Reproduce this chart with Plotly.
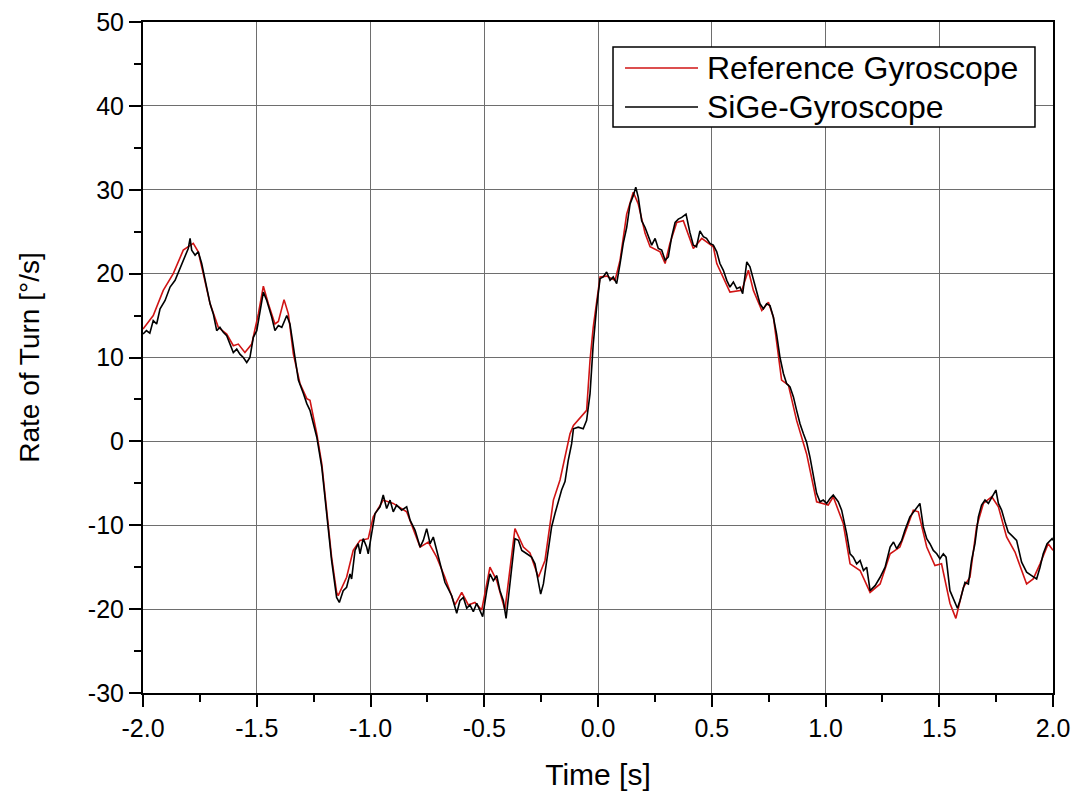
import plotly.graph_objects as go

# ---- data ----
ref_t = [-2.000, -1.955, -1.911, -1.867, -1.823, -1.779, -1.757, -1.735, -1.705, -1.669,
         -1.632, -1.603, -1.581, -1.552, -1.522, -1.493, -1.471, -1.449, -1.420, -1.405,
         -1.380, -1.361, -1.339, -1.310, -1.280, -1.266, -1.236, -1.214, -1.192, -1.171,
         -1.149, -1.142, -1.105, -1.076, -1.046, -1.010, -0.988, -0.944, -0.900, -0.841,
         -0.782, -0.746, -0.709, -0.673, -0.629, -0.599, -0.570, -0.541, -0.511, -0.475,
         -0.445, -0.409, -0.365, -0.328, -0.299, -0.262, -0.233, -0.196, -0.167, -0.123,
         -0.108, -0.050, -0.035, -0.021, 0.009, 0.038, 0.075, 0.097, 0.126, 0.155,
         0.177, 0.207, 0.229, 0.273, 0.295, 0.316, 0.346, 0.375, 0.419, 0.456,
         0.507, 0.522, 0.580, 0.632, 0.661, 0.683, 0.720, 0.749, 0.771, 0.807,
         0.837, 0.873, 0.917, 0.961, 1.012, 1.034, 1.078, 1.108, 1.152, 1.196,
         1.240, 1.284, 1.327, 1.386, 1.408, 1.445, 1.481, 1.510, 1.547, 1.573,
         1.606, 1.635, 1.664, 1.694, 1.731, 1.760, 1.796, 1.833, 1.884, 1.913,
         1.943, 1.979, 2.000]
ref_v = [13.4, 15.0, 18.0, 20.0, 22.8, 23.6, 22.6, 20.0, 16.4, 13.6,
         12.8, 11.4, 11.6, 10.6, 11.6, 15.2, 18.5, 16.4, 14.0, 14.3,
         16.9, 15.2, 10.4, 6.9, 5.1, 4.9, 0.9, -2.7, -8.6, -13.8,
         -18.0, -18.4, -16.2, -13.0, -11.8, -11.6, -9.0, -7.0, -7.4, -8.4,
         -12.6, -12.0, -13.8, -16.2, -19.5, -18.0, -19.5, -19.2, -20.1, -15.0,
         -16.6, -20.1, -10.4, -12.6, -13.3, -16.2, -14.2, -7.0, -4.6, 0.9,
         1.9, 3.7, 9.7, 13.6, 19.6, 19.7, 19.2, 21.6, 27.1, 29.7,
         28.3, 24.8, 23.2, 22.6, 21.2, 23.6, 26.1, 26.3, 23.0, 24.2,
         23.2, 21.2, 17.8, 18.0, 20.4, 18.0, 15.6, 16.6, 14.8, 7.3,
         6.7, 2.5, -1.5, -7.2, -7.6, -6.6, -9.8, -14.6, -15.4, -18.0,
         -17.0, -13.4, -12.6, -8.2, -8.4, -12.6, -14.8, -14.6, -19.3, -21.1,
         -17.4, -16.2, -10.2, -7.4, -6.6, -7.8, -11.4, -13.2, -17.0, -16.4,
         -14.6, -12.2, -13.0]

sige_t = [-2.000, -1.985, -1.970, -1.955, -1.940, -1.925, -1.903, -1.881, -1.859, -1.837,
          -1.815, -1.801, -1.793, -1.786, -1.771, -1.757, -1.742, -1.727, -1.705, -1.691,
          -1.676, -1.662, -1.647, -1.632, -1.618, -1.603, -1.588, -1.574, -1.559, -1.544,
          -1.530, -1.515, -1.500, -1.486, -1.471, -1.456, -1.434, -1.420, -1.405, -1.390,
          -1.368, -1.354, -1.339, -1.317, -1.295, -1.280, -1.266, -1.251, -1.236, -1.214,
          -1.192, -1.171, -1.149, -1.137, -1.120, -1.105, -1.090, -1.083, -1.068, -1.054,
          -1.046, -1.032, -1.017, -1.010, -0.995, -0.980, -0.958, -0.944, -0.929, -0.914,
          -0.900, -0.885, -0.863, -0.841, -0.826, -0.804, -0.782, -0.768, -0.753, -0.738,
          -0.724, -0.702, -0.687, -0.673, -0.658, -0.643, -0.621, -0.607, -0.592, -0.577,
          -0.563, -0.548, -0.533, -0.519, -0.507, -0.489, -0.475, -0.460, -0.445, -0.431,
          -0.416, -0.404, -0.387, -0.365, -0.350, -0.335, -0.313, -0.292, -0.277, -0.262,
          -0.252, -0.240, -0.225, -0.204, -0.189, -0.174, -0.160, -0.145, -0.131, -0.116,
          -0.108, -0.087, -0.065, -0.050, -0.035, -0.021, -0.006, 0.009, 0.023, 0.038,
          0.053, 0.067, 0.082, 0.097, 0.111, 0.126, 0.141, 0.155, 0.166, 0.177,
          0.192, 0.207, 0.221, 0.236, 0.251, 0.265, 0.280, 0.295, 0.309, 0.324,
          0.339, 0.353, 0.368, 0.387, 0.404, 0.419, 0.433, 0.448, 0.463, 0.477,
          0.492, 0.507, 0.522, 0.536, 0.551, 0.566, 0.580, 0.595, 0.610, 0.624,
          0.636, 0.654, 0.668, 0.683, 0.698, 0.712, 0.727, 0.741, 0.756, 0.771,
          0.785, 0.800, 0.815, 0.829, 0.844, 0.859, 0.873, 0.888, 0.903, 0.917,
          0.932, 0.946, 0.961, 0.976, 0.990, 1.005, 1.020, 1.034, 1.056, 1.071,
          1.093, 1.108, 1.122, 1.137, 1.152, 1.167, 1.181, 1.196, 1.218, 1.240,
          1.262, 1.284, 1.299, 1.313, 1.335, 1.349, 1.371, 1.393, 1.415, 1.430,
          1.445, 1.459, 1.474, 1.489, 1.503, 1.518, 1.530, 1.547, 1.562, 1.580,
          1.591, 1.613, 1.628, 1.642, 1.657, 1.672, 1.686, 1.701, 1.716, 1.731,
          1.749, 1.760, 1.774, 1.789, 1.803, 1.818, 1.840, 1.862, 1.884, 1.906,
          1.928, 1.943, 1.957, 1.974, 1.996, 2.000]
sige_v = [12.8, 13.2, 12.9, 14.4, 14.0, 15.8, 16.8, 18.4, 19.2, 20.6,
          22.2, 23.0, 24.2, 22.8, 22.2, 22.6, 21.2, 19.2, 16.4, 15.2,
          13.2, 13.6, 13.0, 12.6, 11.6, 10.6, 11.0, 10.4, 10.0, 9.4,
          10.0, 12.4, 13.2, 15.2, 17.8, 16.8, 14.8, 13.2, 13.8, 13.6,
          15.0, 14.0, 11.2, 7.3, 5.7, 4.5, 3.7, 2.1, 0.5, -3.1,
          -8.6, -14.2, -18.6, -19.2, -17.8, -17.4, -15.8, -16.4, -13.0, -12.2,
          -13.4, -11.6, -12.6, -13.4, -11.0, -8.6, -7.8, -6.4, -8.0, -7.0,
          -8.4, -7.6, -8.2, -7.8, -9.4, -10.6, -12.6, -11.8, -10.4, -12.2,
          -11.4, -13.8, -15.6, -16.8, -17.6, -18.4, -20.5, -19.0, -18.6, -19.9,
          -19.5, -20.3, -19.3, -20.1, -20.9, -17.8, -15.8, -16.6, -16.0, -17.8,
          -19.0, -21.1, -16.6, -11.6, -11.8, -13.0, -13.4, -13.8, -14.6, -16.8,
          -18.2, -17.0, -14.2, -10.2, -8.6, -7.0, -5.8, -4.8, -2.3, -0.3,
          1.5, 1.7, 1.5, 2.5, 5.7, 11.6, 16.0, 19.4, 19.6, 20.2,
          19.2, 19.6, 18.8, 21.2, 23.6, 25.5, 28.3, 29.3, 30.3, 29.1,
          26.3, 25.5, 24.4, 23.4, 24.2, 23.0, 22.8, 21.6, 22.0, 24.4,
          26.1, 26.5, 26.7, 27.1, 24.9, 23.4, 23.2, 25.1, 24.4, 24.2,
          23.6, 23.4, 22.6, 21.2, 20.4, 19.2, 18.4, 19.0, 18.2, 18.4,
          17.6, 21.4, 20.8, 19.2, 17.6, 16.4, 15.8, 16.4, 16.2, 14.8,
          12.8, 10.0, 8.1, 6.9, 6.5, 5.3, 3.7, 2.1, 0.9, -0.1,
          -1.9, -3.9, -6.2, -7.2, -7.0, -7.4, -6.8, -6.4, -7.2, -8.2,
          -11.0, -13.4, -13.8, -14.6, -14.2, -15.4, -15.0, -17.8, -17.2, -16.2,
          -15.0, -12.6, -12.0, -12.8, -11.8, -10.6, -9.0, -8.2, -7.4, -10.2,
          -11.6, -12.2, -13.0, -13.4, -14.0, -13.4, -13.8, -17.8, -18.8, -19.9,
          -19.0, -16.8, -17.0, -14.2, -12.2, -9.0, -7.6, -7.0, -7.4, -6.6,
          -5.8, -7.4, -8.2, -9.6, -10.8, -11.2, -11.8, -14.4, -15.6, -16.0,
          -16.4, -15.0, -13.4, -12.2, -11.6, -11.8]

x_ticks = [-2.0, -1.5, -1.0, -0.5, 0.0, 0.5, 1.0, 1.5, 2.0]
x_tick_labels = ["-2.0", "-1.5", "-1.0", "-0.5", "0.0", "0.5", "1.0", "1.5", "2.0"]
y_ticks = [-30, -20, -10, 0, 10, 20, 30, 40, 50]
y_tick_labels = ["-30", "-20", "-10", "0", "10", "20", "30", "40", "50"]

series_names = ["Reference Gyroscope", "SiGe-Gyroscope"]

RED = "#d01414"
BLACK = "#000000"
FONT = "Liberation Sans, Arial, sans-serif"

fig = go.Figure()
fig.add_trace(go.Scatter(x=ref_t, y=ref_v, mode="lines", name=series_names[0],
                         line=dict(color=RED, width=1.6), showlegend=False))
fig.add_trace(go.Scatter(x=sige_t, y=sige_v, mode="lines", name=series_names[1],
                         line=dict(color=BLACK, width=1.6), showlegend=False))

axis_common = dict(
    showline=True, linecolor="black", linewidth=2, mirror=True,
    ticks="outside", ticklen=12, tickwidth=2, tickcolor="black",
    showgrid=True, gridcolor="#6e6e6e", gridwidth=1,
    zeroline=False, automargin=False,
    tickfont=dict(family=FONT, size=25, color="black"),
)

fig.update_xaxes(
    range=[-2, 2], tickvals=x_ticks, ticktext=x_tick_labels,
    minor=dict(dtick=0.25, tick0=-2, ticks="outside", ticklen=7, tickwidth=2,
               tickcolor="black", showgrid=False),
    title=dict(text="Time [s]", font=dict(family=FONT, size=30, color="black"), standoff=23),
    **axis_common,
)
fig.update_yaxes(
    range=[-30, 50], tickvals=y_ticks, ticktext=y_tick_labels,
    minor=dict(dtick=5, tick0=-30, ticks="outside", ticklen=7, tickwidth=2,
               tickcolor="black", showgrid=False),
    title=dict(text="Rate of Turn [°/s]", font=dict(family=FONT, size=28, color="black"), standoff=40),
    **axis_common,
)

# legend box drawn to match the original placement
shapes = [
    dict(type="rect", xref="paper", yref="paper", x0=0.5165, x1=0.9802, y0=0.8435, y1=0.9627,
         line=dict(color="black", width=1.5), fillcolor="white", layer="above"),
    dict(type="line", xref="paper", yref="paper", x0=0.5297, x1=0.6099, y0=0.9314, y1=0.9314,
         line=dict(color=RED, width=1.6), layer="above"),
    dict(type="line", xref="paper", yref="paper", x0=0.5297, x1=0.6099, y0=0.8733, y1=0.8733,
         line=dict(color=BLACK, width=1.6), layer="above"),
]
annotations = [
    dict(xref="paper", yref="paper", x=0.6176, y=0.9314, text=series_names[0], showarrow=False,
         xanchor="left", yanchor="middle", font=dict(family=FONT, size=32, color="black")),
    dict(xref="paper", yref="paper", x=0.6176, y=0.8733, text=series_names[1], showarrow=False,
         xanchor="left", yanchor="middle", font=dict(family=FONT, size=32, color="black")),
]

fig.update_layout(
    width=1072, height=794,
    margin=dict(l=143, r=19, t=22, b=101, autoexpand=False),
    paper_bgcolor="white", plot_bgcolor="white",
    shapes=shapes, annotations=annotations,
    showlegend=False,
    font=dict(family=FONT, color="black"),
)

# remove the browser's default 8px body margin so the figure sits at the page corner
fig.write_html("out.html", config={"displayModeBar": False},
               post_script="document.body.style.margin='0';")
